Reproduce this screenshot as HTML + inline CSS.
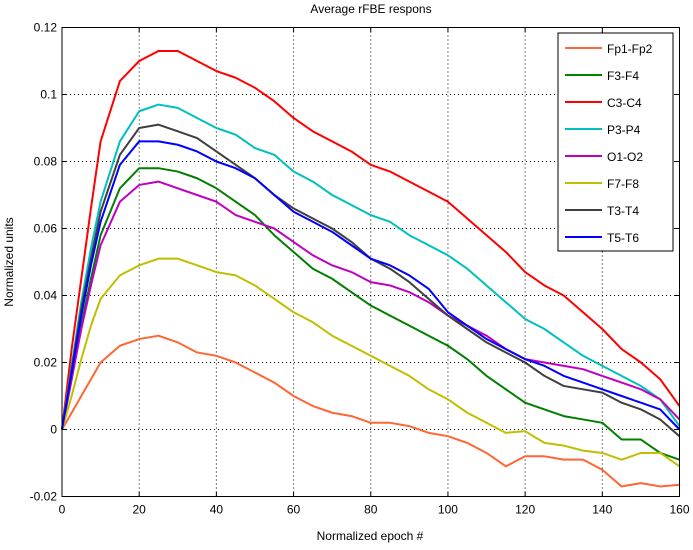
<!DOCTYPE html>
<html><head><meta charset="utf-8"><style>
body{margin:0;background:#fff;}
svg text{font-family:"Liberation Sans",sans-serif;font-size:12px;fill:#000;}
</style></head><body>
<svg id="chart" width="693" height="545" xmlns="http://www.w3.org/2000/svg">
<rect x="0" y="0" width="693" height="545" fill="#fff"/>
<g id="grid"></g><g id="series"></g><g id="axes"></g><g id="legend"></g>
<text x="371" y="13" text-anchor="middle">Average rFBE respons</text>
<text x="370" y="540" text-anchor="middle">Normalized epoch #</text>
<text transform="translate(13,262) rotate(-90)" text-anchor="middle">Normalized units</text>
</svg>
<script>
const xs=[0,2.5,5,7.5,10,15,20,25,30,35,40,45,50,55,60,65,70,75,80,85,90,95,100,105,110,115,120,125,130,135,140,145,150,155,160];
const names=["Fp1-Fp2","F3-F4","C3-C4","P3-P4","O1-O2","F7-F8","T3-T4","T5-T6"];
const colors=["#ff6633","#007f00","#ff0000","#00bfbf","#bf00bf","#bfbf00","#3f3f3f","#0000ff"];
const fp1=[0,0.005,0.010,0.015,0.020,0.025,0.027,0.028,0.026,0.023,0.022,0.02,0.017,0.014,0.01,0.007,0.005,0.004,0.002,0.002,0.001,-0.001,-0.002,-0.004,-0.007,-0.011,-0.008,-0.008,-0.009,-0.009,-0.012,-0.017,-0.016,-0.017,-0.0165];
const f3=[0,0.015,0.031,0.045,0.058,0.072,0.078,0.078,0.077,0.075,0.072,0.068,0.064,0.058,0.053,0.048,0.045,0.041,0.037,0.034,0.031,0.028,0.025,0.021,0.016,0.012,0.008,0.006,0.004,0.003,0.002,-0.003,-0.003,-0.007,-0.009];
const c3=[0,0.024,0.045,0.066,0.086,0.104,0.11,0.113,0.113,0.11,0.107,0.105,0.102,0.098,0.093,0.089,0.086,0.083,0.079,0.077,0.074,0.071,0.068,0.063,0.058,0.053,0.047,0.043,0.04,0.035,0.03,0.024,0.02,0.015,0.007];
const p3=[0,0.019,0.038,0.054,0.068,0.086,0.095,0.097,0.096,0.093,0.09,0.088,0.084,0.082,0.077,0.074,0.07,0.067,0.064,0.062,0.058,0.055,0.052,0.048,0.043,0.038,0.033,0.03,0.026,0.022,0.019,0.016,0.013,0.009,0.001];
const o1=[0,0.015,0.030,0.043,0.055,0.068,0.073,0.074,0.072,0.07,0.068,0.064,0.062,0.06,0.056,0.052,0.049,0.047,0.044,0.043,0.041,0.038,0.034,0.031,0.028,0.024,0.021,0.02,0.019,0.018,0.016,0.014,0.012,0.009,0.003];
const f7=[0,0.010,0.021,0.031,0.039,0.046,0.049,0.051,0.051,0.049,0.047,0.046,0.043,0.039,0.035,0.032,0.028,0.025,0.022,0.019,0.016,0.012,0.009,0.005,0.002,-0.001,-0.0005,-0.004,-0.0048,-0.0063,-0.007,-0.009,-0.007,-0.007,-0.011];
const t3=[0,0.018,0.036,0.051,0.065,0.082,0.09,0.091,0.089,0.087,0.083,0.079,0.075,0.07,0.066,0.063,0.06,0.056,0.051,0.048,0.044,0.039,0.034,0.03,0.026,0.023,0.02,0.016,0.013,0.012,0.011,0.008,0.006,0.003,-0.002];
const t5=[0,0.017,0.034,0.049,0.062,0.079,0.086,0.086,0.085,0.083,0.08,0.078,0.075,0.07,0.065,0.062,0.059,0.055,0.051,0.049,0.046,0.042,0.035,0.031,0.027,0.024,0.021,0.019,0.016,0.014,0.012,0.01,0.008,0.006,0.0];
const seriesData=[fp1,f3,c3,p3,o1,f7,t3,t5];
const xTicks=[0,20,40,60,80,100,120,140,160];
const yTicks=[-0.02,0,0.02,0.04,0.06,0.08,0.1,0.12];
const yLabels=["-0.02","0","0.02","0.04","0.06","0.08","0.1","0.12"];

const L=62,R=679.5,T=27.5,B=496.5;
const sx=v=>L+(v-0)/(160-0)*(R-L);
const sy=v=>B-(v+0.02)/(0.14)*(B-T);
const NS="http://www.w3.org/2000/svg";
function mk(tag,attrs,parent){const e=document.createElementNS(NS,tag);for(const k in attrs)e.setAttribute(k,attrs[k]);parent.appendChild(e);return e;}
const grid=document.getElementById('grid'),axes=document.getElementById('axes'),ser=document.getElementById('series'),leg=document.getElementById('legend');
xTicks.forEach((t,i)=>{
  const x=sx(t);
  if(i>0&&i<xTicks.length-1){const g=mk('line',{x1:x,x2:x,y1:T,y2:B,stroke:'#000','stroke-width':1,'stroke-dasharray':'1,3'},grid);
  
  }
  mk('line',{x1:x,x2:x,y1:B,y2:B-5,stroke:'#000'},axes);
  mk('line',{x1:x,x2:x,y1:T,y2:T+5,stroke:'#000'},axes);
  const tx=mk('text',{x:x,y:B+17,'text-anchor':'middle'},axes);tx.textContent=t;
  
  
});
yTicks.forEach((t,i)=>{
  const y=sy(t);
  if(i>0&&i<yTicks.length-1){const g=mk('line',{x1:L,x2:R,y1:y,y2:y,stroke:'#000','stroke-width':1,'stroke-dasharray':'1,3'},grid);
  
  }
  mk('line',{x1:L,x2:L+5,y1:y,y2:y,stroke:'#000'},axes);
  mk('line',{x1:R,x2:R-5,y1:y,y2:y,stroke:'#000'},axes);
  const tx=mk('text',{x:L-5,y:y+4,'text-anchor':'end'},axes);tx.textContent=yLabels[i];
  
  
});
const frame=mk('rect',{x:L,y:T,width:R-L,height:B-T,fill:'none',stroke:'#000'},axes);


seriesData.forEach((d,i)=>{
  const p=mk('polyline',{points:d.map((v,j)=>sx(xs[j])+','+sy(v)).join(' '),fill:'none',stroke:colors[i],'stroke-width':2,'stroke-linejoin':'round'},ser);
  
  
});
const lb=mk('rect',{x:558,y:33,width:115,height:218,fill:'#fff',stroke:'#000'},leg);


names.forEach((n,i)=>{
  const y=48+i*27;
  mk('line',{x1:565,x2:602,y1:y,y2:y,stroke:colors[i],'stroke-width':2},leg);
  const t=mk('text',{x:607,y:y+5},leg);t.textContent=n;
  
  
});
</script>
</body></html>
